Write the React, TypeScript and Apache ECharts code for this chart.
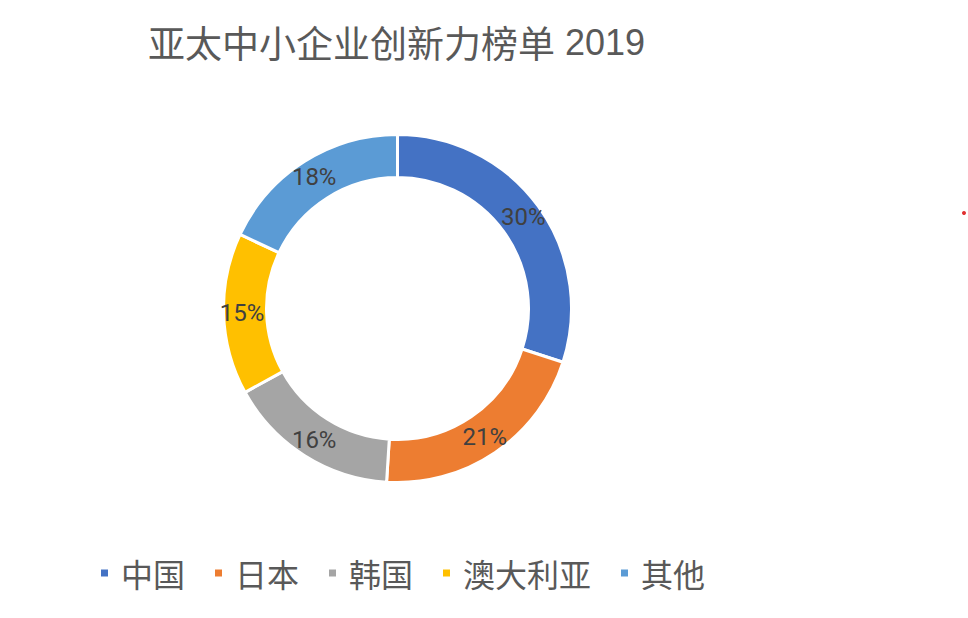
import React, { useEffect, useRef } from "react";
import * as echarts from "echarts";

const titleMain = "亚太中小企业创新力榜单";
const titleYear = "2019";
const categories = ["中国", "日本", "韩国", "澳大利亚", "其他"];
const shares = [30, 21, 16, 15, 18];
const colors = ["#4472C4", "#ED7D31", "#A5A5A5", "#FFC000", "#5B9BD5"];

export default function App() {
  const ref = useRef<HTMLDivElement>(null);
  useEffect(() => {
    document.body.style.margin = "0";
    const chart = echarts.init(ref.current!, null, { renderer: "svg" });
    chart.setOption({
      animation: false,
      backgroundColor: "#ffffff",
      color: colors,
      title: {
        text: `{a|${titleMain}}{b| ${titleYear}}`,
        left: 148,
        top: 20,
        padding: 0,
        textStyle: {
          fontFamily: "'Noto Sans CJK SC', sans-serif",
          fontSize: 37,
          fontWeight: "normal",
          color: "#595959",
          rich: {
            a: {
              fontFamily: "'Noto Sans CJK SC', sans-serif",
              fontSize: 37,
              color: "#595959",
              lineHeight: 44,
            },
            b: {
              fontFamily: "'Liberation Sans', Arial, sans-serif",
              fontSize: 36,
              color: "#595959",
              lineHeight: 44,
            },
          },
        },
      },
      legend: {
        data: categories,
        left: 99,
        top: 556,
        padding: 0,
        icon: "rect",
        itemWidth: 9,
        itemHeight: 9,
        itemGap: 28,
        textStyle: {
          fontFamily: "'Noto Sans CJK SC', sans-serif",
          fontSize: 32,
          lineHeight: 34,
          color: "#595959",
          padding: [0, 0, 0, 7],
        },
      },
      series: [
        {
          type: "pie",
          center: [397.5, 308.5],
          radius: [131, 174],
          startAngle: 90,
          clockwise: true,
          silent: true,
          itemStyle: { borderColor: "#ffffff", borderWidth: 3 },
          label: {
            show: true,
            position: "inside",
            formatter: (p: any) => `${p.value}%`,
            fontFamily: "Roboto, 'Liberation Sans', sans-serif",
            fontSize: 24,
            color: "#404040",
          },
          labelLine: { show: false },
          data: categories.map((name, i) => ({ name, value: shares[i] })),
        },
      ],
      graphic: [
        {
          type: "circle",
          shape: { cx: 964, cy: 213, r: 2 },
          style: { fill: "#e03030" },
        },
      ],
    });
    return () => chart.dispose();
  }, []);
  return <div ref={ref} style={{ width: 968, height: 618 }} />;
}
